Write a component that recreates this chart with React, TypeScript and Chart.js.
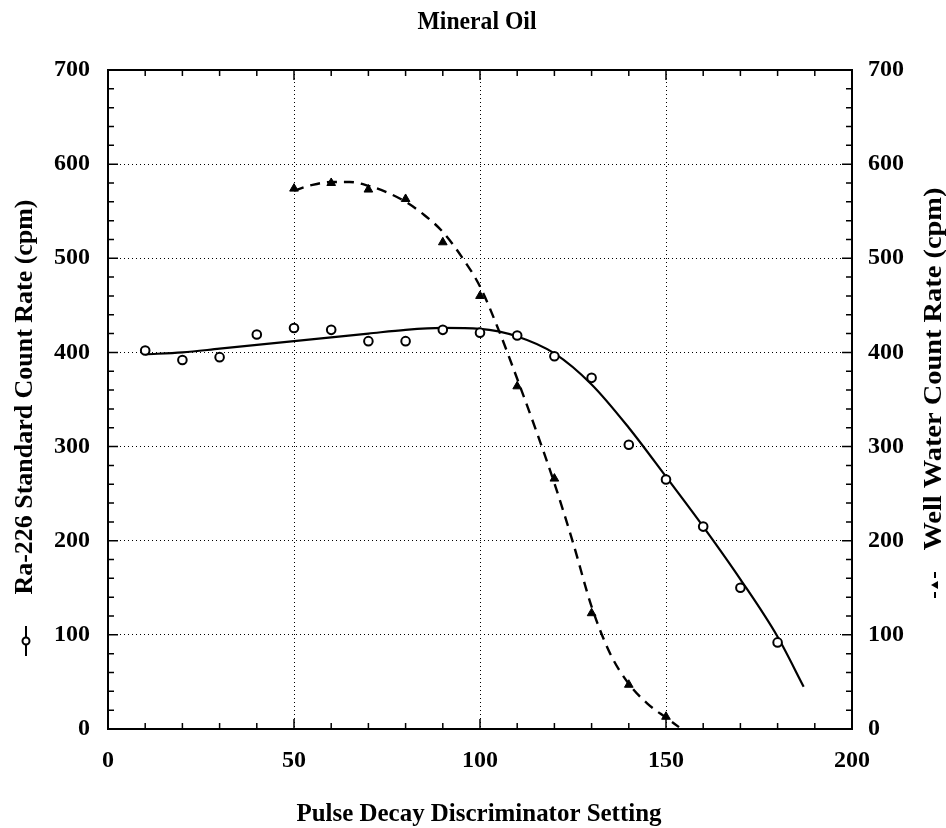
import React, { useEffect, useRef } from "react";
import { Chart, registerables } from "chart.js";

Chart.register(...registerables);

const CHART_TITLE = "Mineral Oil";
const X_TITLE = "Pulse Decay Discriminator Setting";
const LEFT_TITLE = "Ra-226 Standard Count Rate (cpm)";
const RIGHT_TITLE = "Well Water Count Rate (cpm)";

// Ra-226 standard (circles, left axis)
const raSettings = [10, 20, 30, 40, 50, 60, 70, 80, 90, 100, 110, 120, 130, 140, 150, 160, 170, 180];
const raCounts = [402, 392, 395, 419, 426, 424, 412, 412, 424, 421, 418, 396, 373, 302, 265, 215, 150, 92];

// Well water (triangles, right axis)
const wellSettings = [50, 60, 70, 80, 90, 100, 110, 120, 130, 140, 150];
const wellCounts = [574, 580, 573, 563, 517, 460, 364, 266, 123, 47, 13];

// Fitted curves
const raFitSettings = [10, 20, 30, 40, 50, 60, 70, 80, 90, 100, 110, 120, 130, 140, 150, 160, 170, 180, 187];
const raFitCounts = [398, 400, 404, 408, 412, 416, 420, 424, 426, 425, 417, 399, 366, 320, 268, 215, 159, 98, 45];

const wellFitSettings = [50, 55, 60, 65, 70, 75, 80, 85, 90, 95, 100, 105, 110, 115, 120, 125, 130, 135, 140, 145, 150, 153.5];
const wellFitCounts = [572, 578, 581, 581, 577, 570, 560, 546, 528, 502, 470, 424, 372, 318, 261, 198, 130, 80, 48, 27, 12, 2];

const X_MIN = 0;
const X_MAX = 200;
const X_STEP = 50;
const X_MINOR = 10;
const Y_MIN = 0;
const Y_MAX = 700;
const Y_STEP = 100;
const Y_MINOR = 20;

const FONT = '"Liberation Serif", "DejaVu Serif", serif';

const toXY = (xs: number[], ys: number[]) => xs.map((x, i) => ({ x, y: ys[i] }));

function drawStretched(ctx: CanvasRenderingContext2D, text: string, x: number, y: number, width: number, vertical: boolean) {
  ctx.save();
  ctx.translate(x, y);
  if (vertical) ctx.rotate(-Math.PI / 2);
  const w = ctx.measureText(text).width || 1;
  ctx.scale(width / w, 1);
  ctx.fillText(text, 0, 0);
  ctx.restore();
}

const decorPlugin = {
  id: "decor",
  afterDraw(chart: any) {
    const { ctx, chartArea } = chart;
    const { left, right, top, bottom } = chartArea;
    const xs = chart.scales.x;
    const ys = chart.scales.y;
    ctx.save();
    ctx.strokeStyle = "#000";
    ctx.fillStyle = "#000";

    // minor / major inward ticks
    ctx.lineWidth = 1.5;
    ctx.beginPath();
    for (let v = X_MIN + X_MINOR; v < X_MAX; v += X_MINOR) {
      const px = xs.getPixelForValue(v);
      const len = v % X_STEP === 0 ? 10 : 6;
      ctx.moveTo(px, bottom);
      ctx.lineTo(px, bottom - len);
      ctx.moveTo(px, top);
      ctx.lineTo(px, top + len);
    }
    for (let v = Y_MIN + Y_MINOR; v < Y_MAX; v += Y_MINOR) {
      const py = ys.getPixelForValue(v);
      const len = v % Y_STEP === 0 ? 10 : 6;
      ctx.moveTo(left, py);
      ctx.lineTo(left + len, py);
      ctx.moveTo(right, py);
      ctx.lineTo(right - len, py);
    }
    ctx.stroke();

    // frame
    ctx.lineWidth = 2;
    ctx.strokeRect(left, top, right - left, bottom - top);

    // titles
    ctx.textAlign = "center";
    ctx.textBaseline = "middle";
    ctx.font = `bold 25px ${FONT}`;
    drawStretched(ctx, CHART_TITLE, 477, 23, 119, false);
    ctx.font = `bold 26px ${FONT}`;
    drawStretched(ctx, X_TITLE, 479, 814, 365, false);
    drawStretched(ctx, LEFT_TITLE, 25, 397, 395, true);
    drawStretched(ctx, RIGHT_TITLE, 934, 369, 363, true);

    // legend glyph left: solid line with open circle
    ctx.lineWidth = 2;
    ctx.beginPath();
    ctx.moveTo(26, 626);
    ctx.lineTo(26, 656);
    ctx.stroke();
    ctx.beginPath();
    ctx.arc(26, 641, 3.5, 0, Math.PI * 2);
    ctx.fillStyle = "#fff";
    ctx.fill();
    ctx.stroke();
    ctx.fillStyle = "#000";

    // legend glyph right: dashed line with triangle
    ctx.lineWidth = 2;
    ctx.beginPath();
    ctx.moveTo(935, 572);
    ctx.lineTo(935, 578);
    ctx.moveTo(935, 592);
    ctx.lineTo(935, 598);
    ctx.stroke();
    ctx.beginPath();
    ctx.moveTo(931, 585);
    ctx.lineTo(938, 581);
    ctx.lineTo(938, 589);
    ctx.closePath();
    ctx.fill();

    ctx.restore();
  },
};

export default function App() {
  const ref = useRef<HTMLCanvasElement | null>(null);

  useEffect(() => {
    if (!ref.current) return;
    const tickFont = { family: FONT, size: 24, weight: "bold" as const };
    const chart = new Chart(ref.current, {
      type: "scatter",
      data: {
        datasets: [
          {
            label: "Ra-226 points",
            data: toXY(raSettings, raCounts),
            yAxisID: "y",
            showLine: false,
            pointStyle: "circle",
            pointRadius: 4.3,
            pointBackgroundColor: "#fff",
            pointBorderColor: "#000",
            pointBorderWidth: 2,
          },
          {
            label: "Well water points",
            data: toXY(wellSettings, wellCounts),
            yAxisID: "y2",
            showLine: false,
            pointStyle: "triangle",
            pointRadius: 5,
            pointBackgroundColor: "#000",
            pointBorderColor: "#000",
            pointBorderWidth: 1,
          },
          {
            label: "Ra-226 fit",
            data: toXY(raFitSettings, raFitCounts),
            yAxisID: "y",
            showLine: true,
            pointRadius: 0,
            borderColor: "#000",
            borderWidth: 2.2,
            cubicInterpolationMode: "monotone",
          },
          {
            label: "Well water fit",
            data: toXY(wellFitSettings, wellFitCounts),
            yAxisID: "y2",
            showLine: true,
            pointRadius: 0,
            borderColor: "#000",
            borderWidth: 2.4,
            borderDash: [10, 7],
            cubicInterpolationMode: "monotone",
          },
        ],
      },
      options: {
        animation: false,
        responsive: false,
        maintainAspectRatio: false,
        layout: { padding: { top: 70, left: 0, right: 0, bottom: 0 } },
        plugins: {
          legend: { display: false },
          title: { display: false },
          tooltip: { enabled: false },
        },
        scales: {
          x: {
            type: "linear",
            min: X_MIN,
            max: X_MAX,
            afterFit: (s: any) => {
              s.height = 99;
            },
            ticks: { stepSize: X_STEP, color: "#000", font: tickFont, padding: 17, maxRotation: 0 },
            grid: { color: "#000", lineWidth: 1, drawTicks: false },
            border: { display: false, dash: [1, 3] },
          },
          y: {
            type: "linear",
            position: "left",
            min: Y_MIN,
            max: Y_MAX,
            afterFit: (s: any) => {
              s.width = 108;
            },
            ticks: { stepSize: Y_STEP, color: "#000", font: tickFont, padding: 18 },
            grid: { color: "#000", lineWidth: 1, drawTicks: false },
            border: { display: false, dash: [1, 3] },
          },
          y2: {
            type: "linear",
            position: "right",
            min: Y_MIN,
            max: Y_MAX,
            afterFit: (s: any) => {
              s.width = 94;
            },
            ticks: { stepSize: Y_STEP, color: "#000", font: tickFont, padding: 16 },
            grid: { display: false, drawTicks: false },
            border: { display: false },
          },
        },
      },
      plugins: [decorPlugin],
    });
    return () => chart.destroy();
  }, []);

  return (
    <div style={{ position: "absolute", left: 0, top: 0, width: 946, height: 828, background: "#fff" }}>
      <canvas ref={ref} width={946} height={828} style={{ display: "block", width: 946, height: 828 }} />
    </div>
  );
}
